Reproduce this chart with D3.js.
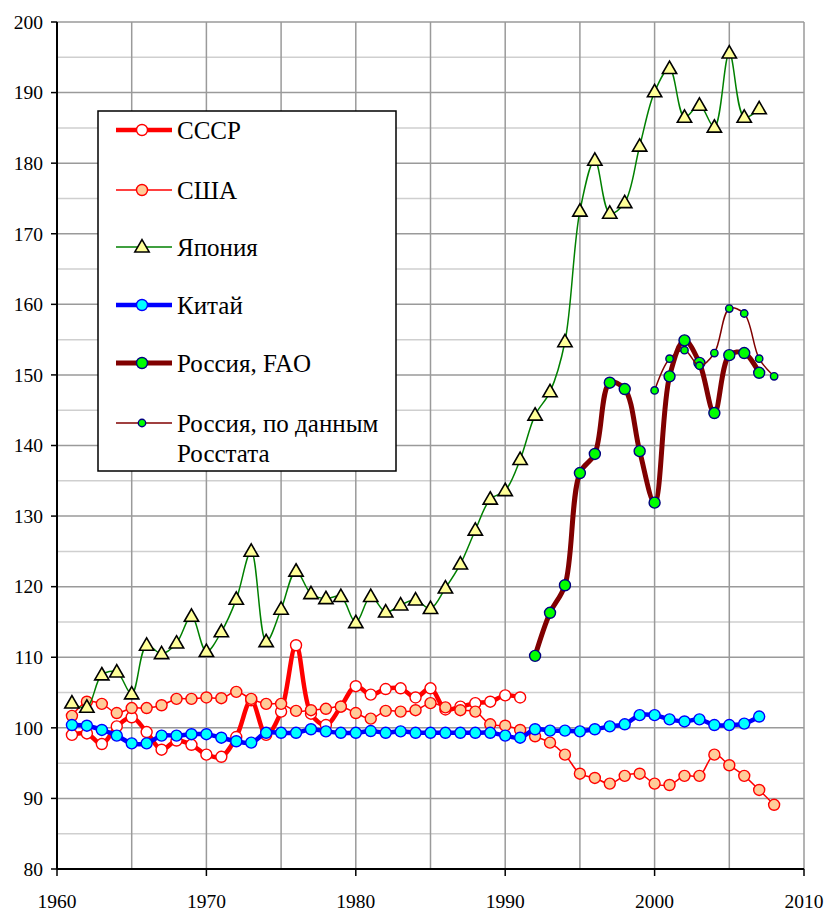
<!DOCTYPE html>
<html lang="ru">
<head>
<meta charset="UTF-8">
<title>Индексы</title>
<script src="https://d3js.org/d3.v7.min.js"></script>
<style>
  body { margin: 0; background: #fff; }
  svg { display: block; }
</style>
</head>
<body>
<svg width="829" height="911" id="chart"></svg>
<script>
// data
const yearsUSSR = d3.range(1961, 1992);
const ussr = [99.0, 99.2, 97.7, 100.2, 101.5, 99.4, 96.9, 98.2, 97.6, 96.2,
              95.9, 98.7, 103.9, 99.0, 102.3, 111.7, 102.0, 100.4, 103.0, 105.9,
              104.7, 105.5, 105.6, 104.3, 105.6, 102.6, 103.0, 103.5, 103.7, 104.6, 104.3];

const yearsUSA = d3.range(1961, 2009);
const usa = [101.7, 103.7, 103.4, 102.1, 102.8, 102.8, 103.2, 104.1, 104.1, 104.3,
             104.2, 105.1, 104.1, 103.4, 103.4, 102.4, 102.5, 102.7, 103.0, 102.1,
             101.3, 102.4, 102.3, 102.5, 103.5, 102.9, 102.5, 102.3, 100.5, 100.3,
             99.7, 98.8, 97.9, 96.2, 93.5, 92.9, 92.1, 93.2, 93.5, 92.1,
             91.9, 93.2, 93.2, 96.2, 94.7, 93.2, 91.2, 89.1];

const yearsJapan = d3.range(1961, 2008);
const japan = [103.5, 102.9, 107.5, 107.9, 104.8, 111.7, 110.5, 112.0, 115.8, 110.8,
               113.6, 118.2, 125.0, 112.2, 116.8, 122.2, 119.0, 118.3, 118.6, 114.9,
               118.6, 116.4, 117.4, 118.1, 116.9, 119.8, 123.2, 128.0, 132.4, 133.6,
               138.0, 144.3, 147.6, 154.7, 173.2, 180.4, 172.9, 174.4, 182.4, 190.1,
               193.4, 186.5, 188.2, 185.1, 195.6, 186.5, 187.7];

const yearsChina = d3.range(1961, 2008);
const china = [100.4, 100.3, 99.7, 98.9, 97.8, 97.8, 98.9, 98.9, 99.1, 99.1,
               98.6, 98.1, 97.9, 99.3, 99.3, 99.3, 99.8, 99.5, 99.3, 99.3,
               99.55, 99.3, 99.5, 99.3, 99.3, 99.3, 99.3, 99.3, 99.3, 98.9,
               98.6, 99.8, 99.6, 99.6, 99.5, 99.8, 100.2, 100.5, 101.8, 101.8,
               101.2, 100.9, 101.2, 100.4, 100.4, 100.6, 101.6];

const yearsFAO = d3.range(1992, 2008);
const russiaFAO = [110.2, 116.3, 120.2, 136.1, 138.8, 148.9, 148.0, 139.2, 131.9, 149.8,
                   154.9, 151.7, 144.6, 152.8, 153.1, 150.3];

const yearsRosstat = d3.range(2000, 2009);
const russiaRosstat = [147.8, 152.3, 153.5, 151.3, 153.1, 159.4, 158.7, 152.3, 149.8];

const yTicks = d3.range(80, 201, 10);
const xTicks = d3.range(1960, 2011, 10);

const svg = d3.select("#chart");
const serif = "Liberation Serif";

const x = d3.scaleLinear().domain([1960, 2010]).range([57, 804]);
const y = d3.scaleLinear().domain([80, 200]).range([869, 22]);

// grid
const grid = svg.append("g");
grid.selectAll(".hg").data(d3.range(85, 201, 5)).join("line")
    .attr("x1", x(1960)).attr("x2", x(2010))
    .attr("y1", d => y(d)).attr("y2", d => y(d))
    .attr("stroke", d => d % 10 === 0 ? "#9a9a9a" : "#cfcfcf")
    .attr("stroke-width", 1.5);
grid.selectAll(".vg").data(d3.range(1965, 2011, 5)).join("line")
    .attr("x1", d => x(d)).attr("x2", d => x(d))
    .attr("y1", y(80)).attr("y2", y(200))
    .attr("stroke", "#9a9a9a")
    .attr("stroke-width", 1.5);

// axes
svg.append("line").attr("x1", x(1960)).attr("x2", x(1960))
    .attr("y1", y(200)).attr("y2", y(80))
    .attr("stroke", "#000").attr("stroke-width", 2);
svg.append("line").attr("x1", x(1960)).attr("x2", x(2010))
    .attr("y1", y(80)).attr("y2", y(80))
    .attr("stroke", "#000").attr("stroke-width", 2);

svg.selectAll(".yt").data(yTicks).join("line")
    .attr("x1", x(1960) - 6).attr("x2", x(1960))
    .attr("y1", d => y(d)).attr("y2", d => y(d))
    .attr("stroke", "#000").attr("stroke-width", 1.5);
svg.selectAll(".yl").data(yTicks).join("text")
    .attr("x", 43).attr("y", d => y(d)).attr("dy", "0.35em")
    .attr("text-anchor", "end")
    .style("font-family", serif)
    .style("font-size", "19.5px")
    .text(d => d);

svg.selectAll(".xt").data(xTicks).join("line")
    .attr("x1", d => x(d)).attr("x2", d => x(d))
    .attr("y1", y(80)).attr("y2", y(80) + 7)
    .attr("stroke", "#000").attr("stroke-width", 1.5);
svg.selectAll(".xl").data(xTicks).join("text")
    .attr("x", d => x(d)).attr("y", 908)
    .attr("text-anchor", "middle")
    .style("font-family", serif)
    .style("font-size", "19.5px")
    .text(d => d);

const curve = d3.curveCatmullRom.alpha(0.5);

const series = [
    { name: "СССР", years: yearsUSSR, vals: ussr, line: "#ff0000", lw: 4.5, fill: "#ffffff", stroke: "#ff0000", shape: "circle", r: 5.5 },
    { name: "США", years: yearsUSA, vals: usa, line: "#ff0000", lw: 1.5, fill: "#ffcc99", stroke: "#ff0000", shape: "circle", r: 5.5 },
    { name: "Япония", years: yearsJapan, vals: japan, line: "#008000", lw: 1.5, fill: "#ffff99", stroke: "#000000", shape: "triangle", r: 6.5 },
    { name: "Китай", years: yearsChina, vals: china, line: "#0000ff", lw: 4.5, fill: "#00ffff", stroke: "#0000ff", shape: "circle", r: 5.5 },
    { name: "Россия, FAO", years: yearsFAO, vals: russiaFAO, line: "#800000", lw: 5, fill: "#00ff00", stroke: "#000080", shape: "circle", r: 5.5 },
    { name: "Россия, по данным|Росстата", years: yearsRosstat, vals: russiaRosstat, line: "#800000", lw: 1.5, fill: "#00ff00", stroke: "#000080", shape: "circle", r: 3.7 }
];

function drawMarker(g, s, cx, cy) {
    if (s.shape === "triangle") {
        const h = s.r * 1.9, w = s.r * 2.2;
        g.append("path")
            .attr("d", `M${cx},${cy - h * 0.6}L${cx + w / 2},${cy + h * 0.4}L${cx - w / 2},${cy + h * 0.4}Z`)
            .attr("fill", s.fill).attr("stroke", s.stroke).attr("stroke-width", 1.6)
            .attr("stroke-linejoin", "miter");
    } else {
        g.append("circle").attr("cx", cx).attr("cy", cy).attr("r", s.r)
            .attr("fill", s.fill).attr("stroke", s.stroke).attr("stroke-width", 1.4);
    }
}

series.forEach(s => {
    const pts = s.years.map((yr, i) => [yr, s.vals[i]]);
    const g = svg.append("g");
    g.append("path")
        .datum(pts)
        .attr("d", d3.line().x(d => x(d[0])).y(d => y(d[1])).curve(curve))
        .attr("fill", "none")
        .attr("stroke", s.line)
        .attr("stroke-width", s.lw)
        .attr("stroke-linejoin", "round");
    pts.forEach(p => drawMarker(g, s, x(p[0]), y(p[1])));
});

// legend
const legend = svg.append("g");
legend.append("rect")
    .attr("x", 98).attr("y", 111).attr("width", 298).attr("height", 360)
    .attr("fill", "#fff").attr("stroke", "#000").attr("stroke-width", 1.5);

const legendY = [130, 190, 247, 305, 363, 423];
series.forEach((s, i) => {
    const ly = legendY[i];
    legend.append("line")
        .attr("x1", 116).attr("x2", 172).attr("y1", ly).attr("y2", ly)
        .attr("stroke", s.line).attr("stroke-width", s.lw);
    drawMarker(legend, s, 142, ly);
    const lines = s.name.split("|");
    lines.forEach((t, j) => {
        legend.append("text")
            .attr("x", 177).attr("y", ly + j * 30).attr("dy", "0.35em")
            .style("font-family", serif)
            .style("font-size", "25px")
            .text(t);
    });
});
</script>
</body>
</html>
